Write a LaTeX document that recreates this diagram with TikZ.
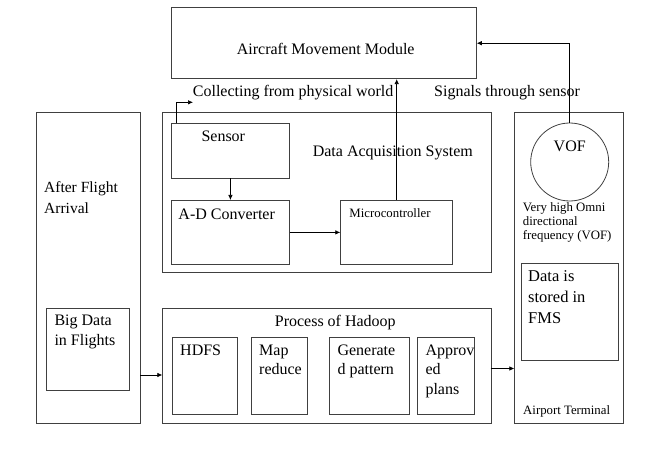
\documentclass[tikz,border=0pt]{standalone}
\usepackage{fontspec}
\setmainfont{Liberation Serif}
\usetikzlibrary{arrows.meta,calc}
\newcommand{\fs}[2]{\fontsize{#1}{#2}\selectfont}
\begin{document}
\begin{tikzpicture}[x=1pt,y=-1pt,
  box/.style={draw=black!75,line width=0.8pt,inner sep=0pt,anchor=north west},
  arr/.style={draw=black,line width=0.7pt,-{Latex[length=5pt,width=4.5pt]}},
  lbl/.style={inner sep=0pt,font=\fs{16}{20}},
  sml/.style={inner sep=0pt,font=\fs{12.8}{14}}]
\useasboundingbox (0,0) rectangle (648,473);
% boxes
\node[box,minimum width=305.3,minimum height=71] (amm) at (170.7,7.3) {};
\node[box,minimum width=104,minimum height=311] (afa) at (36,111.7) {};
\node[box,minimum width=83.3,minimum height=81.7] (big) at (46,308.3) {};
\node[box,minimum width=328.3,minimum height=160] (das) at (162.3,111.7) {};
\node[box,minimum width=117.4,minimum height=54.4] (sensor) at (171.3,123.3) {};
\node[box,minimum width=117.4,minimum height=64] (adc) at (171.3,200) {};
\node[box,minimum width=112,minimum height=64] (micro) at (340.3,200) {};
\node[box,minimum width=328.3,minimum height=114.4] (hadoop) at (162.3,308.3) {};
\node[box,minimum width=65.6,minimum height=77.6] (hdfs) at (171.7,336.7) {};
\node[box,minimum width=55.7,minimum height=77.6] (mapr) at (251,336.7) {};
\node[box,minimum width=79.4,minimum height=77.6] (gen) at (329.3,336.7) {};
\node[box,minimum width=57,minimum height=77.6] (appr) at (417.3,336.7) {};
\node[box,minimum width=109,minimum height=311.6] (term) at (514.3,111.7) {};
\node[box,minimum width=97,minimum height=96.7] (fms) at (521.3,263.3) {};
\node[draw=black!75,line width=0.8pt,circle,minimum size=78,inner sep=0pt] (vof) at (569.7,162) {};
% texts
\node[lbl] (tamm) at (325.7,49) {Aircraft Movement Module};
\node[lbl,anchor=west] (tcol) at (192.7,93) {Collecting from physical world};
\node[lbl,anchor=west] (tsig) at (434,93) {Signals through sensor};
\node[lbl] (tsen) at (223.3,136) {Sensor};
\node[lbl] (tdas) at (392.8,153) {Data Acquisition System};
\node[lbl] (tadc) at (226.7,214) {A-D Converter};
\node[sml] (tmic) at (390,213.5) {Microcontroller};
\node[lbl] (tvof) at (569.7,146.5) {VOF};
\node[sml,anchor=north west,align=left] (tvhf) at (522.7,202.5) {Very high Omni\\directional\\frequency (VOF)};
\node[lbl,anchor=north west,align=left,font=\fs{16.5}{21}] (tfms) at (528,270) {Data is\\stored in\\FMS};
\node[sml,anchor=west] (tair) at (523,411.5) {Airport Terminal};
\node[lbl,anchor=north west,align=left,font=\fs{15.5}{20.7}] (taf) at (44,181.5) {After Flight\\Arrival};
\node[lbl,anchor=north west,align=left,font=\fs{16}{20}] (tbig) at (54.3,315) {Big Data\\in Flights};
\node[lbl] (thad) at (335.3,322.5) {Process of Hadoop};
\node[lbl,anchor=north west,align=left,font=\fs{16}{19.6}] (thd) at (180,344.5) {HDFS};
\node[lbl,anchor=north west,align=left,font=\fs{16}{19.6}] (tmr) at (259,344.5) {Map\\reduce};
\node[lbl,anchor=north west,align=left,font=\fs{16}{19.6}] (tgp) at (337.3,344.5) {Generate\\d pattern};
\node[lbl,anchor=north west,align=left,font=\fs{16}{19.6}] (tap) at (425.3,344.5) {Approv\\ed\\plans};
% connectors
\coordinate (s0) at ($(sensor.north west)+(4.7,0)$);
\coordinate (s1) at (193,102.3);
\draw[arr] (s0) |- (s1);
\draw[arr] (sensor.south) -- (adc.north);
\draw[arr] (adc.east) -- (micro.west);
\draw[arr] (micro.north) -- (micro.north |- amm.south);
\draw[arr] (vof.north) |- (amm.east);
\coordinate (b0) at (140,375);
\coordinate (b1) at (162.3,375);
\draw[arr] (b0) -- (b1);
\coordinate (h0) at (490.7,368.5);
\coordinate (h1) at (514.3,368.5);
\draw[arr] (h0) -- (h1);
\end{tikzpicture}
\end{document}
